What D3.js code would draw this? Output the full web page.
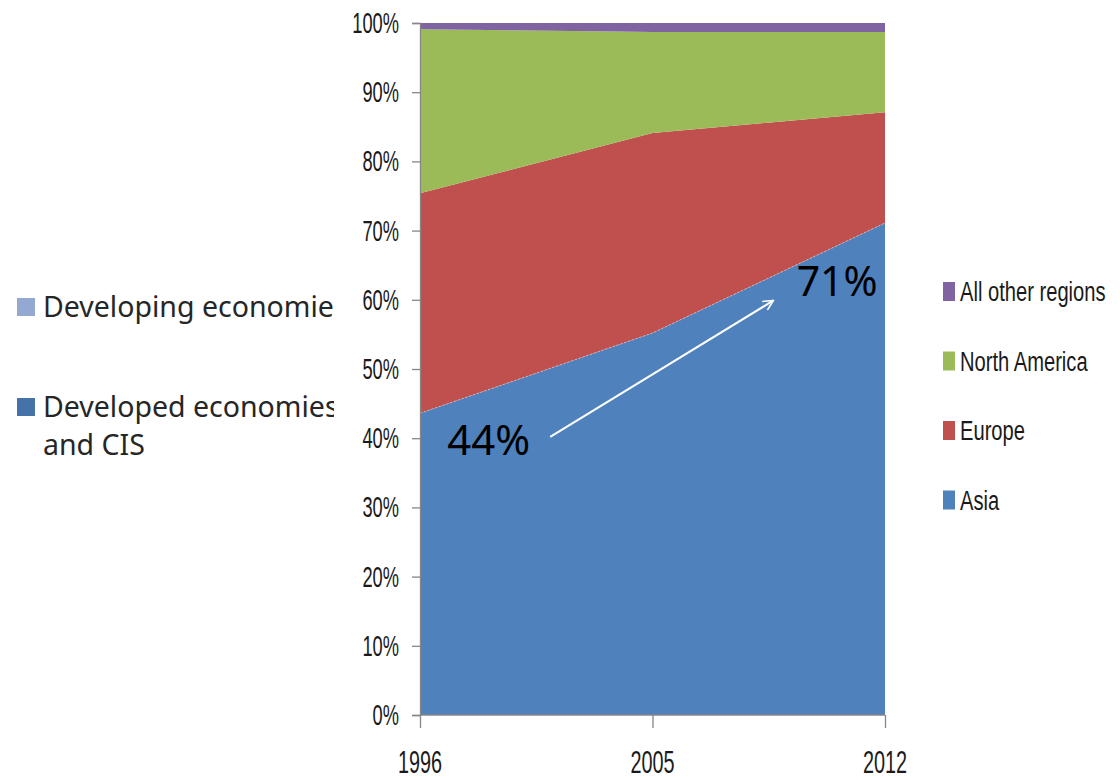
<!DOCTYPE html>
<html>
<head>
<meta charset="utf-8">
<script src="https://cdn.jsdelivr.net/npm/d3@7/dist/d3.min.js"></script>
<style>
  body { margin: 0; background: #fff; }
  svg { display: block; }
</style>
</head>
<body>
<svg id="chart"></svg>
<script>
// data (shares of total, %)
const years = ['1996', '2005', '2012'];
const regions = ['Asia', 'Europe', 'North America', 'All other regions'];
const asia = [43.6, 55.2, 71.1];
const europe = [31.8, 28.9, 16.0];
const northAmerica = [23.7, 14.6, 11.6];
const otherRegions = [0.9, 1.3, 1.3];
const yTicks = [0, 10, 20, 30, 40, 50, 60, 70, 80, 90, 100];
const sideLegend = ['Developing economies', 'Developed economies and CIS'];

const colors = {
  'Asia': '#4f81bd',
  'Europe': '#c0504d',
  'North America': '#9bbb59',
  'All other regions': '#8064a2'
};
const sideColors = ['#93a9d1', '#4573a9'];

const W = 1120, H = 780;
const margin = { top: 23, right: 235, bottom: 65, left: 420 };
const width = W - margin.left - margin.right;
const height = H - margin.top - margin.bottom;

const rows = years.map((y, i) => ({
  year: y,
  'Asia': asia[i],
  'Europe': europe[i],
  'North America': northAmerica[i],
  'All other regions': otherRegions[i]
}));

const stack = d3.stack().keys(regions);
const series = stack(rows);

const x = d3.scalePoint().domain(years).range([0, width]);
// linear index scale, used only to place the annotations between years
const xi = d3.scaleLinear().domain([0, years.length - 1]).range([0, width]);
const y = d3.scaleLinear().domain([0, 100]).range([height, 0]);

const svg = d3.select('#chart')
    .attr('width', W)
    .attr('height', H);

const g = svg.append('g')
    .attr('transform', 'translate(' + margin.left + ',' + margin.top + ')');

const area = d3.area()
    .x(d => x(d.data.year))
    .y0(d => y(d[0]))
    .y1(d => y(d[1]));

g.selectAll('path.layer')
  .data(series)
  .enter().append('path')
    .attr('class', 'layer')
    .attr('fill', d => colors[d.key])
    .attr('d', area);

// faint dotted edge between Asia and Europe
g.append('path')
    .datum(series[0])
    .attr('fill', 'none')
    .attr('stroke', '#d8dde8')
    .attr('stroke-width', 1)
    .attr('stroke-dasharray', '2,2')
    .attr('opacity', 0.6)
    .attr('d', d3.line().x(d => x(d.data.year)).y(d => y(d[1])));

// axes
const axisColor = '#868686';
const yAxis = g.append('g')
    .call(d3.axisLeft(y).tickValues(yTicks).tickSize(8).tickFormat(d => ''));
const xAxis = g.append('g')
    .attr('transform', 'translate(0,' + height + ')')
    .call(d3.axisBottom(x).tickSize(13).tickFormat(d => ''));
[yAxis, xAxis].forEach(a => {
  a.select('.domain').attr('stroke', axisColor).attr('stroke-width', 1.3);
  a.selectAll('.tick line').attr('stroke', axisColor).attr('stroke-width', 1.3);
});
xAxis.select('.domain').attr('d', 'M0,0H' + width);

// condensed labels: normal font squeezed horizontally
const condensed = sel => sel
    .attr('font-family', 'Liberation Sans, Arial, sans-serif')
    .attr('fill', '#1a1a1a');

g.append('g').selectAll('text')
  .data(yTicks)
  .enter().append('text')
    .call(condensed)
    .attr('transform', d => 'translate(-21,' + (y(d) + 10) + ') scale(0.63,1)')
    .attr('text-anchor', 'end')
    .attr('font-size', 29)
    .text(d => d + '%');

g.append('g').selectAll('text')
  .data(years)
  .enter().append('text')
    .call(condensed)
    .attr('transform', d => 'translate(' + x(d) + ',' + (height + 58) + ') scale(0.64,1)')
    .attr('text-anchor', 'middle')
    .attr('font-size', 31)
    .text(d => d);

// right legend
const legend = svg.append('g')
    .attr('transform', 'translate(943,282)');
const item = legend.selectAll('g')
  .data(regions.slice().reverse())
  .enter().append('g')
    .attr('transform', (d, i) => 'translate(0,' + i * 69.5 + ')');
item.append('rect')
    .attr('width', 12)
    .attr('height', 19)
    .attr('fill', d => colors[d]);
item.append('text')
    .call(condensed)
    .attr('transform', 'translate(17,19) scale(0.72,1)')
    .attr('font-size', 28)
    .text(d => d);

// left legend, cut off by the chart area
svg.append('clipPath').attr('id', 'cut')
  .append('rect').attr('x', 0).attr('y', 0).attr('width', 334).attr('height', H);
const side = svg.append('g')
    .attr('clip-path', 'url(#cut)')
    .attr('font-family', 'Noto Sans, Open Sans, sans-serif')
    .attr('font-size', 28.5)
    .attr('fill', '#262626');
side.selectAll('rect')
  .data(sideLegend)
  .enter().append('rect')
    .attr('x', 17)
    .attr('y', (d, i) => 298 + i * 100)
    .attr('width', 18)
    .attr('height', 18)
    .attr('fill', (d, i) => sideColors[i]);
side.append('text')
    .attr('x', 43).attr('y', 317)
    .text(sideLegend[0]);
const t2 = side.append('text')
    .attr('x', 43).attr('y', 417);
t2.append('tspan').text('Developed economies');
t2.append('tspan').attr('x', 43).attr('dy', 38).text('and CIS');

// annotation: 44% -> 71%
svg.append('defs').append('marker')
    .attr('id', 'head')
    .attr('viewBox', '0 0 12 12')
    .attr('refX', 11).attr('refY', 6)
    .attr('markerWidth', 12).attr('markerHeight', 12)
    .attr('markerUnits', 'userSpaceOnUse')
    .attr('orient', 'auto')
  .append('path')
    .attr('d', 'M1,1L11,6L1,11')
    .attr('fill', 'none')
    .attr('stroke', '#fff')
    .attr('stroke-width', 1.6);
const ann = g.append('g');
ann.append('line')
    .attr('x1', xi(0.56)).attr('y1', y(40.2))
    .attr('x2', xi(1.52)).attr('y2', y(59.9))
    .attr('stroke', '#fff')
    .attr('stroke-width', 2)
    .attr('marker-end', 'url(#head)');
ann.append('text')
    .attr('x', xi(0.117)).attr('y', y(37.6))
    .attr('font-family', 'Noto Sans, Open Sans, sans-serif')
    .attr('font-size', 42)
    .attr('fill', '#000')
    .text('44%');
ann.append('text')
    .attr('x', xi(1.62)).attr('y', y(60.5))
    .attr('font-family', 'Noto Sans, Open Sans, sans-serif')
    .attr('font-size', 41)
    .attr('fill', '#000')
    .text('71%');
</script>
</body>
</html>
